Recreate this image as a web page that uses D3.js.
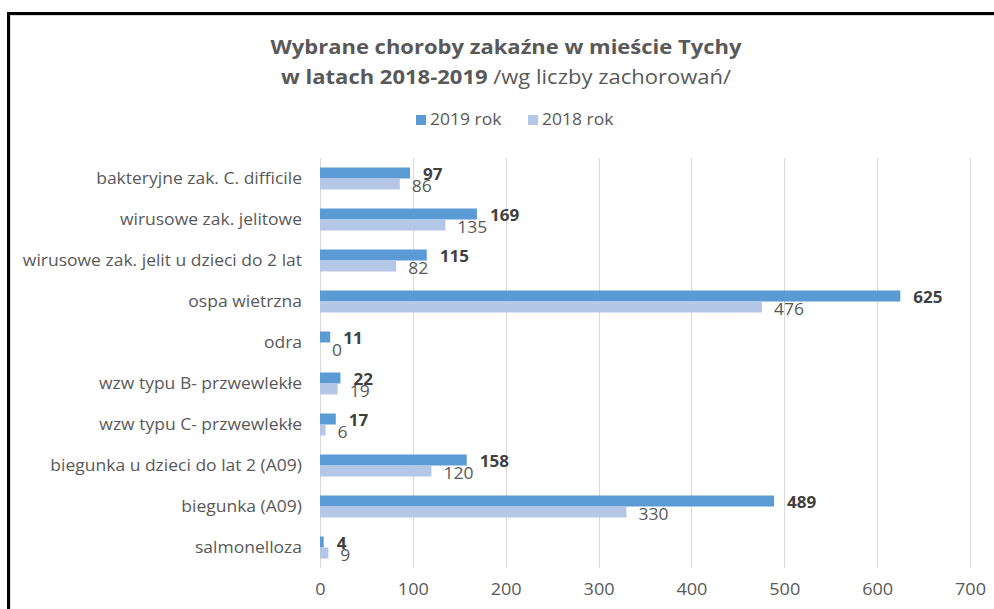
<!DOCTYPE html>
<html>
<head>
<meta charset="utf-8">
<script src="https://cdn.jsdelivr.net/npm/d3@7"></script>
<style>
  html, body { margin: 0; padding: 0; background: #ffffff; }
  svg { display: block; }
</style>
</head>
<body>
<svg id="chart" width="994" height="609"></svg>
<script>
// ---------- data ----------
const categories = [
  "bakteryjne zak. C. difficile",
  "wirusowe zak. jelitowe",
  "wirusowe zak. jelit u dzieci do 2 lat",
  "ospa wietrzna",
  "odra",
  "wzw typu B- przwewlekłe",
  "wzw typu C- przwewlekłe",
  "biegunka u dzieci do lat 2 (A09)",
  "biegunka (A09)",
  "salmonelloza"
];
const values2019 = [97, 169, 115, 625, 11, 22, 17, 158, 489, 4];
const values2018 = [86, 135, 82, 476, 0, 19, 6, 120, 330, 9];
const seriesNames = ["2019 rok", "2018 rok"];
const seriesColors = ["#5B9BD5", "#B4C7E7"];
const xTicks = [0, 100, 200, 300, 400, 500, 600, 700];
const titleLine1 = "Wybrane choroby zakaźne w mieście Tychy";
const titleLine2Bold = "w latach 2018-2019 ";
const titleLine2Regular = "/wg liczby zachorowań/";

// ---------- setup ----------
const svg = d3.select("#chart");
const FONT = "'Open Sans', 'DejaVu Sans', sans-serif";
const TEXT = "#595959";
const SX = 1.13; // horizontal stretch of the original picture's text

function place(sel, fx, fy, sx) {
  return sel.attr("transform", (d, i) => `translate(${fx(d, i)},${fy(d, i)}) scale(${sx},1)`);
}

// frame
svg.append("path")
  .attr("d", "M10.5,609 V15.5 H994")
  .attr("fill", "none").attr("stroke", "#d9d9d9").attr("stroke-width", 1);
svg.append("path")
  .attr("d", "M8.5,609 V13.5 H994")
  .attr("fill", "none").attr("stroke", "#000").attr("stroke-width", 3);

const x = d3.scaleLinear().domain([0, 700]).range([320, 970]);
const y = d3.scaleBand().domain(categories).range([158, 568]).paddingInner(0).paddingOuter(0);
const inner = d3.scaleBand().domain(seriesNames).range([0, y.bandwidth()])
  .paddingInner(0).paddingOuter(0.864);

// gridlines
svg.append("g").selectAll("line").data(xTicks).join("line")
  .attr("x1", d => Math.round(x(d)) + 0.5).attr("x2", d => Math.round(x(d)) + 0.5)
  .attr("y1", 158).attr("y2", 568)
  .attr("stroke", "#d9d9d9").attr("stroke-width", 1);

// x axis tick labels (via d3 axis)
const axis = svg.append("g").attr("transform", "translate(0,584)")
  .call(d3.axisBottom(x).tickValues(xTicks).tickSize(0).tickPadding(0).tickFormat(d3.format("d")));
axis.select(".domain").remove();
axis.selectAll("text")
  .attr("font-family", FONT).attr("font-size", 16).attr("fill", TEXT)
  .attr("y", 0).attr("dy", "0.71em")
  .attr("transform", `scale(${SX},1)`);

// category labels
place(svg.append("g").selectAll("text").data(categories).join("text"),
    () => 302, d => y(d) + y.bandwidth() / 2, SX)
  .attr("dy", "0.35em")
  .attr("text-anchor", "end")
  .attr("font-family", FONT).attr("font-size", 15.5).attr("fill", TEXT)
  .text(d => d);

// bars
const seriesData = [values2019, values2018];
seriesData.forEach((vals, si) => {
  const g = svg.append("g");
  g.selectAll("rect").data(categories).join("rect")
    .attr("x", x(0))
    .attr("y", (c) => y(c) + inner(seriesNames[si]))
    .attr("width", (c, i) => x(vals[i]) - x(0))
    .attr("height", inner.bandwidth())
    .attr("fill", seriesColors[si]);
});

// data labels
place(svg.append("g").selectAll("text").data(categories).join("text"),
    (c, i) => x(values2019[i]) + 13,
    c => y(c) + inner(seriesNames[0]) + inner.bandwidth() / 2 + 1.5, 1.1)
  .attr("dy", "0.35em")
  .attr("font-family", FONT).attr("font-size", 15.5).attr("font-weight", "bold")
  .attr("fill", "#404040")
  .text((c, i) => values2019[i]);

place(svg.append("g").selectAll("text").data(categories).join("text"),
    (c, i) => x(values2018[i]) + 12,
    c => y(c) + inner(seriesNames[1]) + inner.bandwidth() / 2 + 2.5, SX)
  .attr("dy", "0.35em")
  .attr("font-family", FONT).attr("font-size", 15.5)
  .attr("fill", TEXT)
  .text((c, i) => values2018[i]);

// title
const title = svg.append("g").attr("font-family", FONT).attr("fill", TEXT);
title.append("text").attr("transform", "translate(506,54) scale(1.1,1)").attr("text-anchor", "middle")
  .attr("font-size", 20).attr("font-weight", "bold").text(titleLine1);
const t2 = title.append("text").attr("transform", "translate(506,84) scale(1.1,1)").attr("text-anchor", "middle")
  .attr("font-size", 20);
t2.append("tspan").attr("font-weight", "bold").text(titleLine2Bold);
t2.append("tspan").text(titleLine2Regular);

// legend
const legendX = [416, 528];
const legend = svg.append("g");
seriesNames.forEach((name, i) => {
  legend.append("rect").attr("x", legendX[i]).attr("y", 115).attr("width", 10).attr("height", 10)
    .attr("fill", seriesColors[i]);
  legend.append("text").attr("transform", `translate(${legendX[i] + 14},125) scale(${SX},1)`)
    .attr("font-family", FONT).attr("font-size", 15.5).attr("fill", TEXT).text(name);
});
</script>
</body>
</html>
